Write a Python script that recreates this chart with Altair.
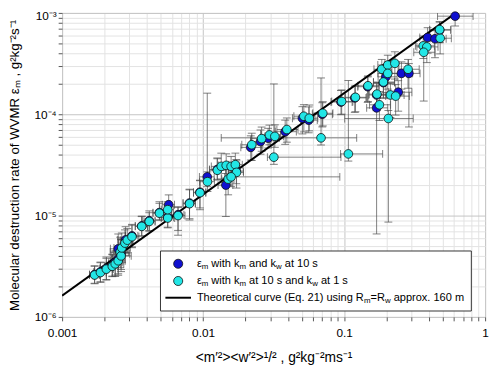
import altair as alt
import pandas as pd

# ---------------- data ----------------
# eps_m with k_m and k_w at 10 s (blue)
blue_x = [0.00170, 0.00187, 0.00206, 0.00227, 0.00238, 0.00250, 0.00250, 0.00262, 0.00282, 0.00313,
          0.00367, 0.00415, 0.00490, 0.00570, 0.00561, 0.00664, 0.00801, 0.00950, 0.0107, 0.0126,
          0.0145, 0.0172, 0.02178, 0.02553, 0.0289, 0.0382, 0.0506, 0.0561, 0.0700, 0.0950,
          0.119, 0.147, 0.170, 0.170, 0.190, 0.198, 0.242, 0.255, 0.288, 0.391,
          0.441, 0.476, 0.613]
blue_y = [2.62e-6, 2.78e-6, 3.00e-6, 3.20e-6, 3.45e-6, 3.70e-6, 4.70e-6, 4.20e-6, 5.75e-6, 6.30e-6,
          7.90e-6, 8.90e-6, 1.07e-5, 1.28e-5, 9.60e-6, 1.02e-5, 1.33e-5, 1.70e-5, 2.41e-5, 2.85e-5,
          2.00e-5, 2.75e-5, 4.71e-5, 5.38e-5, 5.81e-5, 6.73e-5, 9.14e-5, 8.75e-5, 1.00e-4, 1.32e-4,
          1.45e-4, 1.87e-4, 1.55e-4, 1.156e-4, 2.05e-4, 2.34e-4, 1.65e-4, 2.53e-4, 2.53e-4, 5.72e-4,
          5.56e-4, 6.76e-4, 9.29e-4]
# error bar extents as ratios to the value (low / high)
blue_ylo = [.82, .8, .78, .78, .75, .72, .72, .7, .75, .78, .8, .8, .85, .8, .8, .7, .7, .7, .8, .8,
            .49, .75, .75, .75, .8, .75, .7, .75, .75, .75, .72, .7, .7, .057, .7, .7, .65, .7, .296, .7,
            .65, .75, .8]
blue_yhi = [1.22, 1.25, 1.3, 1.3, 1.3, 1.35, 1.4, 1.4, 1.35, 1.3, 1.25, 1.25, 1.28, 1.25, 1.3, 1.2, 1.35, 1.3, 6.7, 1.3,
            1.3, 1.3, 1.3, 1.3, 1.25, 1.3, 1.3, 1.35, 1.3, 1.3, 1.3, 1.25, 1.3, 1.3, 1.3, 1.25, 1.3, 1.3, 1.25, 1.25,
            1.2, 1.2, 1.2]
blue_xlo = [.92, .9, .9, .9, .9, .9, .88, .88, .88, .9, .9, .9, .9, .9, .9, .9, .9, .9, .88, .88,
            .88, .88, .85, .85, .88, .85, .85, .88, .85, .85, .85, .85, .88, .85, .85, .88, .85, .85, .85, .88,
            .85, .85, .75]
blue_xhi = [1.08, 1.1, 1.1, 1.1, 1.12, 1.12, 1.15, 1.15, 1.12, 1.1, 1.1, 1.1, 1.12, 1.1, 1.1, 1.1, 1.1, 1.1, 1.12, 1.15,
            1.12, 1.12, 1.2, 1.18, 1.2, 1.2, 1.2, 1.15, 1.18, 1.2, 1.2, 1.2, 1.2, 1.2, 1.2, 1.2, 1.25, 1.2, 1.2, 1.2,
            1.2, 1.2, 1.34]

# eps_m with k_m at 10 s and k_w at 1 s (cyan)
cyan_x = [0.00170, 0.00187, 0.00206, 0.00227, 0.00238, 0.00250, 0.00258, 0.00262, 0.00265, 0.00279,
          0.00290, 0.00313, 0.00367, 0.00415, 0.00490, 0.00561, 0.00561, 0.00664, 0.00801, 0.00950,
          0.01074, 0.01262, 0.01345, 0.01458, 0.0158, 0.01693, 0.01726, 0.01506, 0.0158, 0.02213,
          0.0260, 0.02952, 0.03227, 0.03175, 0.03925, 0.0518, 0.0566, 0.0706, 0.0686, 0.0961,
          0.1072, 0.1203, 0.1476, 0.171, 0.178, 0.206, 0.190, 0.185, 0.204, 0.229,
          0.204, 0.213, 0.232, 0.284, 0.364, 0.386, 0.367, 0.480, 0.476]
cyan_y = [2.59e-6, 2.74e-6, 2.96e-6, 3.16e-6, 3.34e-6, 3.58e-6, 4.37e-6, 4.00e-6, 4.80e-6, 5.35e-6,
          5.72e-6, 6.18e-6, 7.82e-6, 8.75e-6, 1.057e-5, 9.46e-6, 1.143e-5, 1.00e-5, 1.31e-5, 1.68e-5,
          2.16e-5, 2.80e-5, 3.06e-5, 3.13e-5, 3.06e-5, 3.18e-5, 2.67e-5, 2.29e-5, 2.41e-5, 5.00e-5,
          5.75e-5, 6.25e-5, 6.05e-5, 3.77e-5, 7.07e-5, 9.56e-5, 9.14e-5, 1.023e-4, 5.85e-5, 1.337e-4,
          4.06e-5, 1.47e-4, 1.91e-4, 1.58e-4, 1.24e-4, 9.08e-5, 2.08e-4, 2.78e-4, 3.06e-4, 3.18e-4,
          2.53e-4, 1.55e-4, 1.51e-4, 2.78e-4, 4.73e-4, 4.62e-4, 4.09e-4, 5.63e-4, 6.84e-4]
cyan_ylo = [.82, .8, .78, .8, .75, .72, .7, .7, .72, .75, .75, .78, .8, .8, .85, .8, .82, .64, .69, .68,
            .8, .8, .75, .75, .8, .8, .7, .7, .8, .7, .75, .8, .78, .85, .75, .7, .75, .75, .85, .75,
            .85, .72, .7, .7, .7, .095, .7, .7, .65, .7, .7, .6, .65, .65, .75, .7, .33, .7, .75]
cyan_yhi = [1.22, 1.25, 1.28, 1.3, 1.3, 1.35, 1.4, 1.45, 1.4, 1.35, 1.3, 1.3, 1.25, 1.22, 1.25, 1.3, 1.2, 1.2, 1.39, 1.33,
            1.25, 1.3, 1.35, 1.3, 1.25, 1.3, 1.3, 1.3, 1.2, 1.3, 1.3, 1.25, 1.3, 5.28, 1.3, 1.3, 1.35, 1.3, 3.9, 1.3,
            5.3, 1.3, 1.25, 1.3, 1.35, 1.2, 1.3, 1.25, 1.25, 1.3, 1.3, 1.3, 1.3, 1.25, 1.25, 1.25, 1.2, 1.2, 1.2]
cyan_xlo = [.92, .9, .9, .88, .9, .88, .85, .85, .88, .9, .9, .9, .9, .92, .9, .9, .9, .9, .9, .9,
            .88, .88, .85, .88, .88, .9, .88, .9, .9, .85, .85, .88, .85, .9, .85, .85, .88, .85, .196, .85,
            .88, .85, .85, .88, .85, .49, .85, .88, .85, .85, .85, .85, .85, .85, .88, .85, .85, .85, .85]
cyan_xhi = [1.08, 1.1, 1.12, 1.1, 1.15, 1.12, 1.15, 1.18, 1.15, 1.12, 1.1, 1.12, 1.1, 1.1, 1.1, 1.12, 1.1, 1.12, 1.1, 1.1,
            1.12, 1.15, 1.15, 1.12, 1.15, 1.12, 1.12, 1.1, 5.9, 1.2, 1.18, 1.2, 1.15, 2.99, 1.2, 1.2, 1.15, 1.18, 1.79, 1.2,
            1.75, 1.2, 1.2, 1.2, 1.2, 1.5, 1.2, 1.18, 1.2, 1.25, 1.2, 1.25, 1.25, 1.2, 1.2, 1.2, 1.2, 1.2, 1.2]

# theoretical curve (Eq. 21), R_m = R_w approx. 160 m
line_x = [0.001, 0.62]
line_y = [1.62e-6, 1.0e-3]

x_ticks = [0.001, 0.002, 0.003, 0.004, 0.005, 0.006, 0.007, 0.008, 0.009,
           0.01, 0.02, 0.03, 0.04, 0.05, 0.06, 0.07, 0.08, 0.09,
           0.1, 0.2, 0.3, 0.4, 0.5, 0.6, 0.7, 0.8, 0.9, 1.0]
y_ticks = [1e-6, 2e-6, 3e-6, 4e-6, 5e-6, 6e-6, 7e-6, 8e-6, 9e-6,
           1e-5, 2e-5, 3e-5, 4e-5, 5e-5, 6e-5, 7e-5, 8e-5, 9e-5,
           1e-4, 2e-4, 3e-4, 4e-4, 5e-4, 6e-4, 7e-4, 8e-4, 9e-4, 1e-3]

legend_rows = [
    [("ε", 0), ("m", 1), (" with k", 0), ("m", 1), (" and k", 0), ("w", 1), (" at 10 s", 0)],
    [("ε", 0), ("m", 1), (" with k", 0), ("m", 1), (" at 10 s and k", 0), ("w", 1), (" at 1 s", 0)],
    [("Theoretical curve (Eq. 21) using R", 0), ("m", 1), ("=R", 0), ("w", 1), (" approx. 160 m", 0)],
]

# ---------------- build ----------------
W, H = 430, 309
FONT = "Liberation Sans"
BLUE = "#1010d0"
CYAN = "#22e6e6"


def make_df(xs, ys, ylo, yhi, xlo, xhi):
    return pd.DataFrame({
        "x": xs, "y": ys,
        "ylo": [y * f for y, f in zip(ys, ylo)], "yhi": [y * f for y, f in zip(ys, yhi)],
        "xlo": [x * f for x, f in zip(xs, xlo)], "xhi": [x * f for x, f in zip(xs, xhi)],
    })


blue_df = make_df(blue_x, blue_y, blue_ylo, blue_yhi, blue_xlo, blue_xhi)
cyan_df = make_df(cyan_x, cyan_y, cyan_ylo, cyan_yhi, cyan_xlo, cyan_xhi)
err_df = pd.concat([blue_df, cyan_df], ignore_index=True)
line_df = pd.DataFrame({"x": line_x, "y": line_y})

major_test = "abs(log(datum.value)/LN10 - round(log(datum.value)/LN10)) < 0.001"

xscale = alt.Scale(type="log", domain=[0.001, 1], nice=False)
yscale = alt.Scale(type="log", domain=[1e-6, 1e-3], nice=False)

xaxis = alt.Axis(
    values=x_ticks,
    labelExpr="abs(datum.value-0.001)<1e-7 ? '0.001' : abs(datum.value-0.01)<1e-7 ? '0.01' : "
              "abs(datum.value-0.1)<1e-7 ? '0.1' : abs(datum.value-1)<1e-7 ? '1' : ''",
    title="<m′²><w′²>¹/² , g²kg⁻²ms⁻¹",
    titleFont=FONT, titleFontSize=14, titleFontWeight="normal", titleColor="#000",
    titleX=W / 2, titleY=41, titleAlign="center", titleBaseline="middle",
    labelFont=FONT, labelFontSize=12, labelColor="#000", labelPadding=7,
    labelOverlap=False, labelFlush=False,
    grid=True,
    gridColor={"condition": {"test": major_test, "value": "#c4c4c4"}, "value": "#e2e2e2"},
    gridWidth=1,
    ticks=True, tickSize=4, tickColor="#555", domain=False,
)
yaxis = alt.Axis(
    values=y_ticks,
    labelExpr="abs(datum.value-1e-3)<1e-9 ? '10⁻³' : abs(datum.value-1e-4)<1e-10 ? '10⁻⁴' : "
              "abs(datum.value-1e-5)<1e-11 ? '10⁻⁵' : abs(datum.value-1e-6)<1e-12 ? '10⁻⁶' : ''",
    labelOffset={"condition": {"test": "datum.value > 9.5e-4", "value": 3}, "value": 0},
    title="Molecular destruction rate of WVMR εₘ , g²kg⁻²s⁻¹",
    titleFont=FONT, titleFontSize=13.5, titleFontWeight="normal", titleColor="#000",
    titleX=-48, titleY=H / 2, titleAngle=-90, titleAlign="center", titleBaseline="middle",
    labelFont=FONT, labelFontSize=12, labelColor="#000", labelPadding=2,
    labelOverlap=False, labelFlush=False,
    grid=True,
    gridColor={"condition": {"test": major_test, "value": "#c4c4c4"}, "value": "#e2e2e2"},
    gridWidth=1,
    ticks=True, tickSize=4, tickColor="#555", domain=False,
)


def X(field):
    return alt.X(field, type="quantitative", scale=xscale, axis=xaxis)


def Y(field):
    return alt.Y(field, type="quantitative", scale=yscale, axis=yaxis)


ERR = "#4a4a4a"
base_err = alt.Chart(err_df)
vbar = base_err.mark_rule(color=ERR, strokeWidth=1, opacity=0.7, clip=True).encode(
    x=X("x"), y=Y("ylo"), y2="yhi")
hbar = base_err.mark_rule(color=ERR, strokeWidth=1, opacity=0.7, clip=True).encode(
    y=Y("y"), x=X("xlo"), x2="xhi")
cap_lo = base_err.mark_tick(color=ERR, orient="horizontal", size=8, thickness=1, opacity=0.7, clip=True).encode(
    x=X("x"), y=Y("ylo"))
cap_hi = base_err.mark_tick(color=ERR, orient="horizontal", size=8, thickness=1, opacity=0.7, clip=True).encode(
    x=X("x"), y=Y("yhi"))
cap_l = base_err.mark_tick(color=ERR, orient="vertical", size=8, thickness=1, opacity=0.7, clip=True).encode(
    x=X("xlo"), y=Y("y"))
cap_r = base_err.mark_tick(color=ERR, orient="vertical", size=8, thickness=1, opacity=0.7, clip=True).encode(
    x=X("xhi"), y=Y("y"))

theory = alt.Chart(line_df).mark_line(color="#000", strokeWidth=2, clip=True).encode(
    x=X("x"), y=Y("y"))

blue_pts = alt.Chart(blue_df).mark_circle(
    color=BLUE, size=78, opacity=1, stroke="#111", strokeWidth=0.8).encode(x=X("x"), y=Y("y"))
cyan_pts = alt.Chart(cyan_df).mark_circle(
    color=CYAN, size=78, opacity=1, stroke="#111", strokeWidth=0.8).encode(x=X("x"), y=Y("y"))

# ---------------- legend (drawn by hand for sub-scripts) ----------------
one = pd.DataFrame({"a": [0]})
legend_layers = [
    alt.Chart(one).mark_rect(fill="white", stroke="#333", strokeWidth=1).encode(
        x=alt.value(100), x2=alt.value(416), y=alt.value(242), y2=alt.value(303)),
    alt.Chart(one).mark_circle(color=BLUE, size=85, opacity=1, stroke="#111", strokeWidth=0.8).encode(
        x=alt.value(118), y=alt.value(255)),
    alt.Chart(one).mark_circle(color=CYAN, size=85, opacity=1, stroke="#111", strokeWidth=0.8).encode(
        x=alt.value(118), y=alt.value(272.5)),
    alt.Chart(one).mark_rule(color="#000", strokeWidth=2).encode(
        x=alt.value(105), x2=alt.value(131), y=alt.value(289.5)),
]

ARIAL = {' ': 278, '(': 333, ')': 333, '.': 278, '=': 584, '0': 556, '1': 556, '2': 556, '6': 556,
         'E': 667, 'R': 722, 'T': 611, 'a': 556, 'c': 500, 'd': 556, 'e': 556, 'g': 556, 'h': 556,
         'i': 222, 'k': 500, 'l': 222, 'm': 833, 'n': 556, 'o': 556, 'p': 556, 'q': 556, 'r': 333,
         's': 500, 't': 278, 'u': 556, 'v': 500, 'w': 722, 'x': 500, 'y': 500, 'ε': 440}
FS, FSUB = 11.2, 8.0


def text_w(s, fs):
    return sum(ARIAL.get(ch, 556) for ch in s) * fs / 1000.0


row_y = [255, 272.5, 289.5]
for ry, segs in zip(row_y, legend_rows):
    cx = 137.0
    for txt, sub in segs:
        fs = FSUB if sub else FS
        lead = len(txt) - len(txt.lstrip(" "))
        cx += text_w(" " * lead, fs)
        body = txt.strip(" ")
        legend_layers.append(
            alt.Chart(one).mark_text(text=body, font=FONT, fontSize=fs, align="left", baseline="middle",
                                     color="#000").encode(
                x=alt.value(cx), y=alt.value(ry + (3.5 if sub else 0))))
        cx += text_w(txt.lstrip(" "), fs)

chart = alt.layer(
    vbar, hbar, cap_lo, cap_hi, cap_l, cap_r, theory, blue_pts, cyan_pts, *legend_layers
).properties(
    width=W, height=H,
    autosize=alt.AutoSizeParams(type="none"),
    padding={"left": 55, "top": 2, "right": 7, "bottom": 53},
).configure_view(stroke="#555", strokeWidth=1.5).configure(background="white")

chart.save("out.html", embed_options={"renderer": "svg", "actions": False})
